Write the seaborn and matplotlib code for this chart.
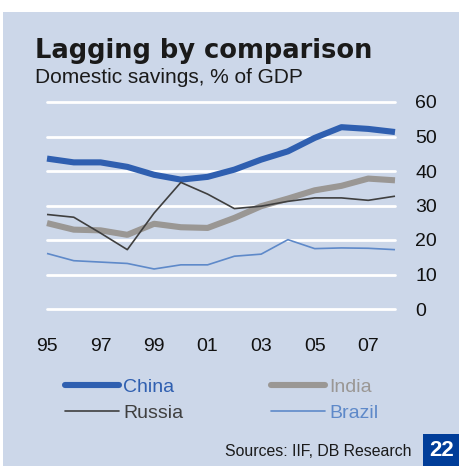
import numpy as np
import pandas as pd
import matplotlib
matplotlib.use("Agg")
import matplotlib.pyplot as plt
import seaborn as sns
from matplotlib.patches import Rectangle

years = list(range(1995, 2009))
china = [43.6, 42.5, 42.5, 41.2, 38.9, 37.5, 38.3, 40.4, 43.3, 45.7, 49.6, 52.7, 52.2, 51.3]
india = [24.9, 23.0, 22.8, 21.5, 24.7, 23.7, 23.5, 26.4, 29.8, 32.0, 34.4, 35.7, 37.8, 37.3]
russia = [27.4, 26.6, 22.0, 17.2, 27.8, 36.7, 33.3, 29.1, 29.8, 31.2, 32.2, 32.2, 31.5, 32.7]
brazil = [16.1, 14.0, 13.6, 13.2, 11.6, 12.8, 12.8, 15.3, 15.9, 20.1, 17.5, 17.7, 17.6, 17.2]
x_ticks = [1995, 1997, 1999, 2001, 2003, 2005, 2007]
x_labels = ["95", "97", "99", "01", "03", "05", "07"]
y_ticks = [0, 10, 20, 30, 40, 50, 60]

BG = "#CCD7E9"
series = [
    ("China", china, "#2F5FB0", 4.4),
    ("India", india, "#9A9794", 4.4),
    ("Russia", russia, "#3F3F3F", 1.2),
    ("Brazil", brazil, "#5E89C9", 1.2),
]

sns.set_theme(style="white")
plt.rcParams['font.family'] = ['Liberation Sans', 'DejaVu Sans']

fig = plt.figure(figsize=(4.6, 4.66), dpi=100, facecolor="white")
fig.patches.append(Rectangle((3 / 460, 0), 1, 454 / 466, transform=fig.transFigure,
                             facecolor=BG, edgecolor="none", zorder=-10))

ax = fig.add_axes([47 / 460, 157 / 466, 348 / 460, 207 / 466])
ax.set_facecolor("none")
for y in y_ticks:
    ax.axhline(y, color="white", lw=2.0, zorder=0, clip_on=False)

for name, vals, col, lw in series:
    df = pd.DataFrame({"year": years, "value": vals})
    sns.lineplot(data=df, x="year", y="value", ax=ax, color=col, linewidth=lw,
                 label=name, solid_capstyle="butt", clip_on=False, zorder=3)

ax.set_xlim(1995, 2008)
ax.set_ylim(0, 60)
ax.set_xticks(x_ticks)
ax.set_xticklabels(x_labels, fontsize=14, color="#111111")
ax.yaxis.tick_right()
ax.set_yticks(y_ticks)
ax.set_yticklabels([str(v) for v in y_ticks], fontsize=14, color="#111111")
ax.tick_params(axis="x", length=0, pad=21)
ax.tick_params(axis="y", length=0, pad=14.5)
for lab in ax.get_yticklabels():
    lab.set_horizontalalignment("left")
ax.set_xlabel("")
ax.set_ylabel("")
for s in ax.spines.values():
    s.set_visible(False)
ax.get_legend().remove()

# legend fills column-wise, so reorder to get China/India on the first row
handles, labels = ax.get_legend_handles_labels()
order = [0, 2, 1, 3]
leg = fig.legend([handles[i] for i in order], [labels[i] for i in order], ncol=2,
                 loc="upper left", bbox_to_anchor=(65 / 460, 1 - 378 / 466),
                 frameon=False, fontsize=14, handlelength=2.8, handletextpad=0.2,
                 columnspacing=4.5, labelspacing=0.45, borderpad=0, borderaxespad=0,
                 labelcolor="linecolor")
for h in leg.get_lines():
    h.set_solid_capstyle("round")

fig.text(35 / 460, 1 - 58 / 466, "Lagging by comparison", fontsize=18.5, fontweight="bold",
         family="DejaVu Sans", color="#1A1A1A", va="baseline", ha="left")
fig.text(35 / 460, 1 - 83 / 466, "Domestic savings, % of GDP", fontsize=15,
         color="#1A1A1A", va="baseline", ha="left")
fig.text(412 / 460, 1 - 452 / 466, "Sources: IIF, DB Research", fontsize=11.4,
         color="#1A1A1A", va="center", ha="right")
fig.patches.append(Rectangle((423 / 460, 0), 37 / 460, 32 / 466, transform=fig.transFigure,
                             facecolor="#003D99", edgecolor="none", zorder=-5))
fig.text(442 / 460, 15 / 466, "22", fontsize=16, fontweight="bold", color="white",
         va="center", ha="center")

fig.savefig("out.png", dpi=100, facecolor=fig.get_facecolor())
